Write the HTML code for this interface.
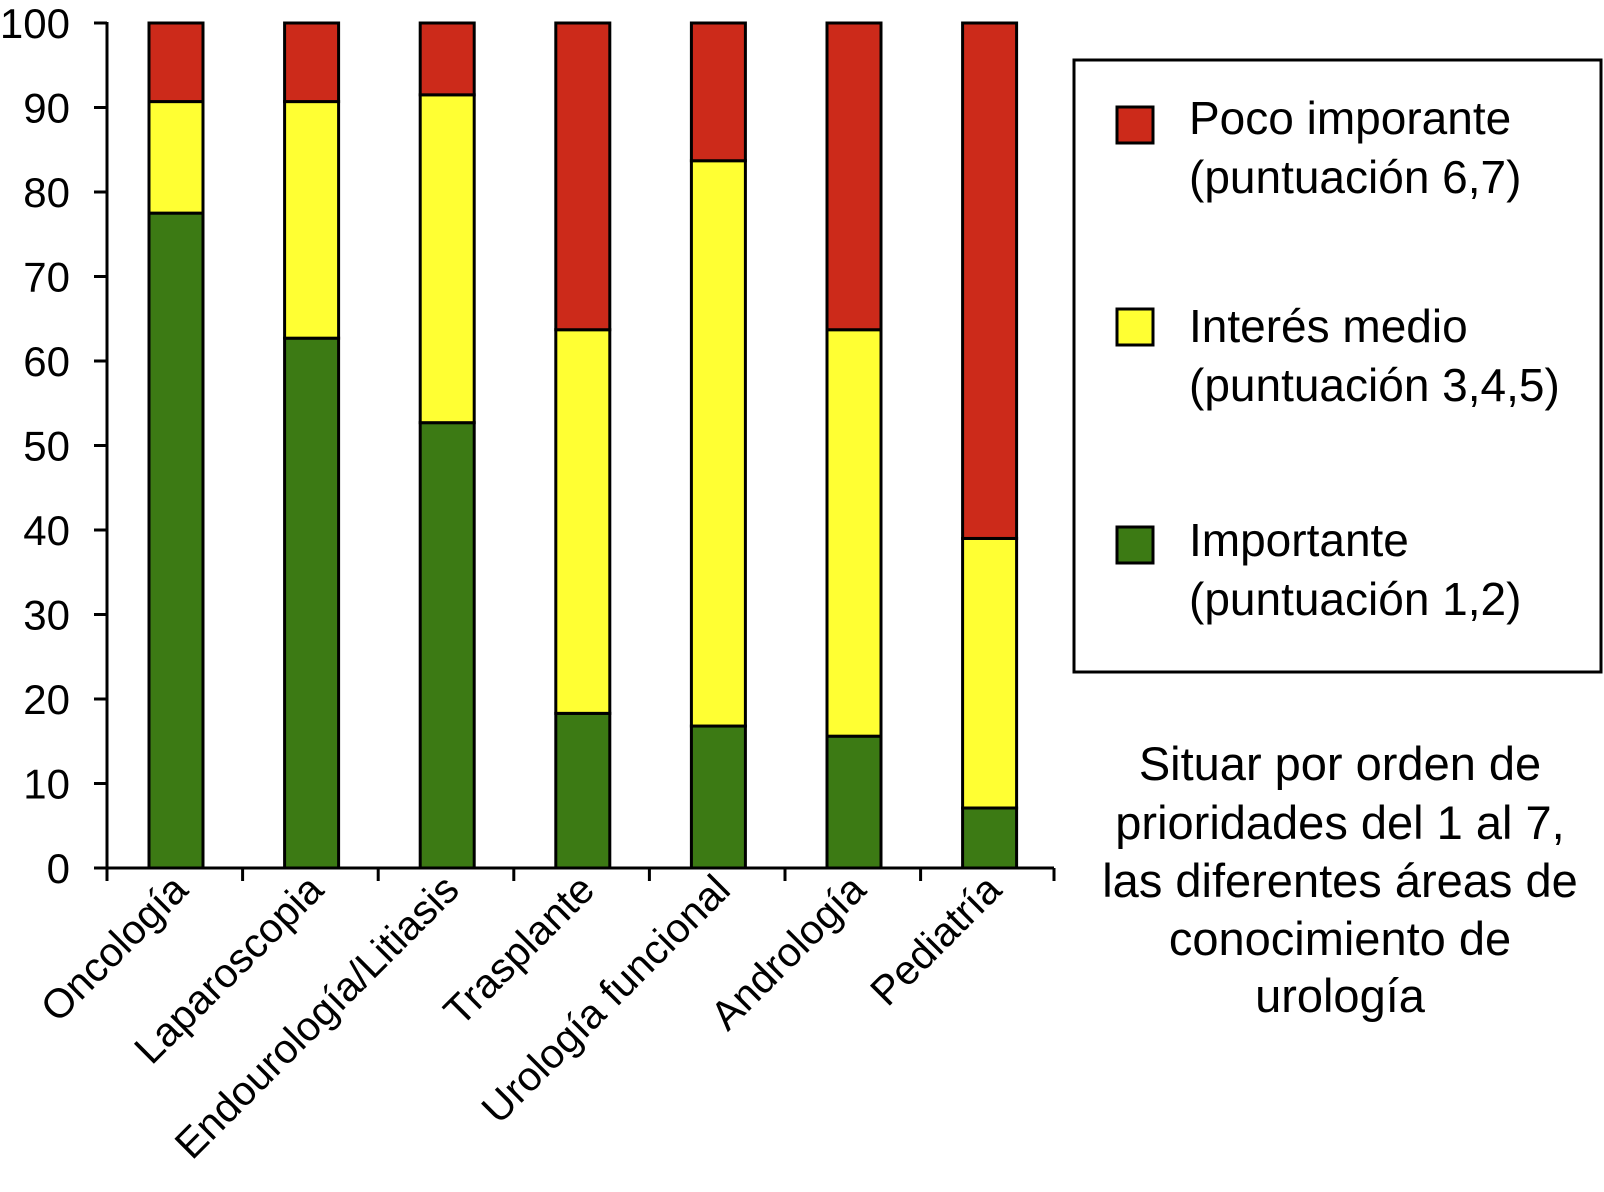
<!DOCTYPE html>
<html><head><meta charset="utf-8"><style>
body{margin:0;background:#fff;}
svg{display:block;font-family:"Liberation Sans",Arial,sans-serif;}
</style></head><body>
<svg id="chart" width="1604" height="1192" viewBox="0 0 1604 1192">
<g id="bars"></g>
<g id="axes"></g>
<g>
<rect x="1074" y="60" width="527" height="612" fill="#fff" stroke="#000" stroke-width="3"/>
<rect x="1117" y="107" width="36" height="36" fill="#cc2a1a" stroke="#000" stroke-width="3"/>
<text x="1189" y="134" font-size="46">Poco imporante</text>
<text x="1189" y="193" font-size="46">(puntuación 6,7)</text>
<rect x="1117" y="309" width="36" height="36" fill="#ffff33" stroke="#000" stroke-width="3"/>
<text x="1189" y="342" font-size="46">Interés medio</text>
<text x="1189" y="401" font-size="46">(puntuación 3,4,5)</text>
<rect x="1117" y="527" width="36" height="36" fill="#3c7a14" stroke="#000" stroke-width="3"/>
<text x="1189" y="556" font-size="46">Importante</text>
<text x="1189" y="615" font-size="46">(puntuación 1,2)</text>
</g>
<g font-size="47" text-anchor="middle">
<text x="1340" y="780">Situar por orden de</text>
<text x="1340" y="839">prioridades del 1 al 7,</text>
<text x="1340" y="897">las diferentes áreas de</text>
<text x="1340" y="955">conocimiento de</text>
<text x="1340" y="1012">urología</text>
</g>
</svg>
<script>
const categories=["Oncología","Laparoscopia","Endourología/Litiasis","Trasplante","Urología funcional","Andrología","Pediatría"];
const importante=[77.5,62.7,52.7,18.3,16.8,15.6,7.1];
const medio=[13.2,28.0,38.8,45.4,66.9,48.1,31.9];
const poco=[9.3,9.3,8.5,36.3,16.3,36.3,61.0];
const yTicks=[0,10,20,30,40,50,60,70,80,90,100];
const NS="http://www.w3.org/2000/svg";
const x0=107,x1=1054,yTop=23,yBot=868,step=135.6,barW=54,barOff=42;
function yS(v){return yBot-(v/100)*(yBot-yTop);}
function xS(i){return x0+barOff+i*step;}
function mk(t,a,p){const e=document.createElementNS(NS,t);for(const k in a)e.setAttribute(k,a[k]);p.appendChild(e);return e;}
const bars=document.getElementById('bars'),axes=document.getElementById('axes');
const series=[[importante,"#3c7a14","importante"],[medio,"#ffff33","medio"],[poco,"#cc2a1a","poco"]];
categories.forEach((c,i)=>{
  let base=0;
  series.forEach(([arr,col,nm])=>{
    const v=arr[i];
    const r=mk('rect',{x:xS(i),y:yS(base+v),width:barW,height:yS(base)-yS(base+v),fill:col,stroke:'#000','stroke-width':3},bars);
    
    
    base+=v;
  });
  const cx=xS(i)+barW/2+14,cy=yBot+24;
  const t=mk('text',{x:cx,y:cy,'font-size':41,'text-anchor':'end',transform:`rotate(-45 ${cx} ${cy})`},axes);
  t.textContent=c;
  
  
});
mk('line',{x1:x0,y1:yTop-1,x2:x0,y2:yBot,stroke:'#000','stroke-width':3},axes);
mk('line',{x1:x0-1,y1:yBot,x2:x1,y2:yBot,stroke:'#000','stroke-width':3},axes);
yTicks.forEach(v=>{
  mk('line',{x1:x0-13,y1:yS(v),x2:x0,y2:yS(v),stroke:'#000','stroke-width':3},axes);
  const t=mk('text',{x:70,y:yS(v)+15,'font-size':42,'text-anchor':'end'},axes);
  t.textContent=v;
  
  
});
for(let i=0;i<=categories.length;i++){
  const xx=i<categories.length?x0+i*step:x1;
  mk('line',{x1:xx,y1:yBot,x2:xx,y2:yBot+13,stroke:'#000','stroke-width':3},axes);
}
</script>
</body></html>
